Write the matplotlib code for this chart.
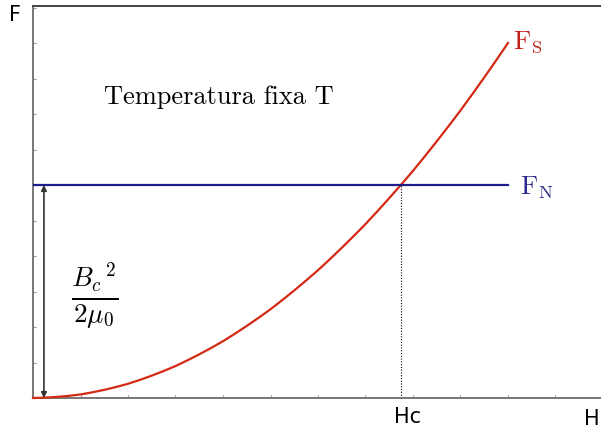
import matplotlib.pyplot as plt
from matplotlib.ticker import MultipleLocator

plt.rcParams["mathtext.fontset"] = "cm"

# field H (tick units) and free energy of the superconducting state
h_vals = [0, 0.25, 0.5, 0.75, 1, 1.25, 1.5, 1.75, 2, 2.25, 2.5, 2.75, 3, 3.25, 3.5,
          3.75, 4, 4.25, 4.5, 4.75, 5, 5.25, 5.5, 5.75, 6, 6.25, 6.5, 6.75, 7,
          7.25, 7.5, 7.75, 8, 8.25, 8.5, 8.75, 9, 9.25, 9.5, 9.75, 10]
fs_vals = [0, 0.01, 0.03, 0.06, 0.10, 0.16, 0.23, 0.31, 0.40, 0.51, 0.63, 0.76,
           0.90, 1.06, 1.23, 1.41, 1.60, 1.81, 2.03, 2.26, 2.50, 2.76, 3.03, 3.31,
           3.60, 3.91, 4.23, 4.56, 4.90, 5.26, 5.63, 6.01, 6.40, 6.81, 7.23, 7.66,
           8.10, 8.56, 9.03, 9.51, 10.0]
fn_level = 6.0
h_c = 7.75
h_max = 10.0

fig = plt.figure(figsize=(6.01, 4.35), dpi=100)
ax = fig.add_axes([33 / 601, 36 / 435, 587 / 601, 392 / 435])

ax.plot(h_vals, fs_vals, color="#d42a14", lw=1.6, clip_on=False, zorder=3)
ax.plot([0, h_max], [fn_level, fn_level], color="#1c1c8a", lw=1.6, zorder=3)
ax.plot([h_c, h_c], [0, fn_level], color="black", lw=0.8, ls=(0, (1, 1.5)))
ax.annotate("", xy=(0.23, 0), xytext=(0.23, fn_level),
            arrowprops=dict(arrowstyle="<|-|>", color="#333333", lw=1.2,
                            mutation_scale=8, shrinkA=0, shrinkB=0))

ax.set_xlim(0, 587 / 47.5)
ax.set_ylim(0, 392 / 35.5)
ax.xaxis.set_major_locator(MultipleLocator(1))
ax.yaxis.set_major_locator(MultipleLocator(1))
ax.tick_params(direction="in", length=2.5, width=0.8, color="#999999",
               labelbottom=False, labelleft=False)
for side in ["left", "bottom"]:
    ax.spines[side].set_color("#777777")
    ax.spines[side].set_linewidth(1.4)
ax.spines["top"].set_color("#444444")
ax.spines["top"].set_linewidth(1.4)
ax.spines["right"].set_visible(False)

ax.text(1.5, 8.5, "Temperatura fixa T", fontname="cmr10", fontsize=19,
        va="center", ha="left")
ax.text(h_max + 0.1, 10.05, r"$\mathrm{F}_{\mathrm{S}}$", color="#c0201a",
        fontsize=19, va="center", ha="left")
ax.text(h_max + 0.25, 5.95, r"$\mathrm{F}_{\mathrm{N}}$", color="#2a2a8a",
        fontsize=19, va="center", ha="left")
ax.text(1.3, 2.9, r"$\frac{{B_c}^{\,2}}{2\mu_0}$", fontsize=28,
        va="center", ha="center")

fig.text(15 / 601, 1 - 15 / 435, "F", fontsize=15, ha="center", va="center")
fig.text(408 / 601, 1 - 417 / 435, "Hc", fontsize=15, ha="center", va="center")
fig.text(600 / 601, 1 - 419 / 435, "H", fontsize=15, ha="right", va="center")

fig.savefig("out.png", dpi=100)
